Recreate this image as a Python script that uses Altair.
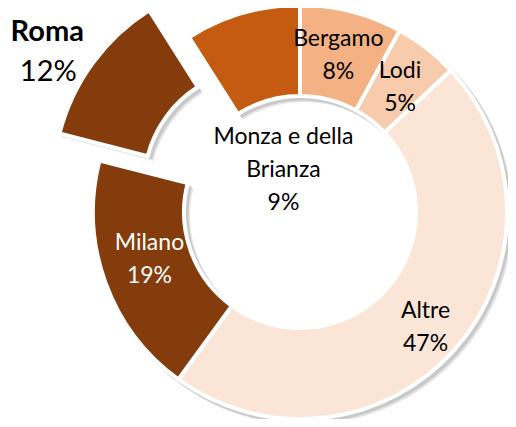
import math
import altair as alt
import pandas as pd

# ---- data ----
cities = ["Bergamo", "Lodi", "Altre", "Milano", "Roma", "Monza e della Brianza"]
shares = [8, 5, 47, 19, 12, 9]
pct_labels = ["8%", "5%", "47%", "19%", "12%", "9%"]
name_lines = ["Bergamo", "Lodi", "Altre", "Milano", "Roma", "Monza e della\nBrianza"]
colors = ["#F4B183", "#F8CBAD", "#FBE5D6", "#843C0C", "#843C0C", "#C55A11"]

df = pd.DataFrame({
    "city": cities,
    "share": shares,
    "order": list(range(len(cities))),
    "color": colors,
    "name": name_lines,
    "pct": pct_labels,
})
df["label"] = df["name"] + "\n" + df["pct"]

# ---- layout ----
W, H = 500, 411
CX_OFF, CY_OFF = 42, -1.5        # shift of the donut centre from the view centre
OUTER, INNER = 207, 116
EXPLODE = (-40, -27)              # Roma slice pulled out
FONT = "Lato"
FS = 23
LH = 33

theta_scale = alt.Scale(domain=[0, 100], range=[0, 2 * math.pi])

base = (
    alt.Chart(df)
    .transform_window(cum="sum(share)", sort=[alt.SortField("order")], frame=[None, 0])
    .transform_calculate(start="datum.cum - datum.share", mid="datum.cum - datum.share / 2")
)

arc_enc = dict(
    theta=alt.Theta("start:Q", scale=theta_scale, stack=False),
    theta2="cum:Q",
)

not_roma = alt.datum.city != "Roma"
is_roma = alt.datum.city == "Roma"

layers = []
# soft drop shadow
for off, op in [(4, 0.10), (2.5, 0.12)]:
    layers.append(
        base.transform_filter(not_roma)
        .mark_arc(outerRadius=OUTER + 2, innerRadius=INNER - 2, color="#000000", opacity=op,
                  xOffset=CX_OFF + off, yOffset=CY_OFF + off)
        .encode(**arc_enc)
    )
    layers.append(
        base.transform_filter(is_roma)
        .mark_arc(outerRadius=OUTER + 2, innerRadius=INNER - 2, color="#000000", opacity=op,
                  xOffset=CX_OFF + EXPLODE[0] + off, yOffset=CY_OFF + EXPLODE[1] + off)
        .encode(**arc_enc)
    )

layers.append(
    base.transform_filter(not_roma)
    .mark_arc(outerRadius=OUTER, innerRadius=INNER, stroke="white", strokeWidth=4,
              xOffset=CX_OFF, yOffset=CY_OFF)
    .encode(color=alt.Color("color:N", scale=None), **arc_enc)
)
layers.append(
    base.transform_filter(is_roma)
    .mark_arc(outerRadius=OUTER, innerRadius=INNER, stroke="white", strokeWidth=4,
              xOffset=CX_OFF + EXPLODE[0], yOffset=CY_OFF + EXPLODE[1])
    .encode(color=alt.Color("color:N", scale=None), **arc_enc)
)

text_theta = alt.Theta("mid:Q", scale=theta_scale, stack=False)

# per-label placement: (radius, dx, dy of block centre, number of lines, colour)
label_layout = {
    "Bergamo": (162, -2, 0, 2, "#000000"),
    "Lodi": (160, 2, 2, 2, "#000000"),
    "Altre": (170, -2, 3, 2, "#000000"),
    "Milano": (160, 0, -7, 2, "#FFFFFF"),
    "Monza e della Brianza": (45, -4, 1, 3, "#000000"),
}
for city, (r, dx, dy, n, col) in label_layout.items():
    layers.append(
        base.transform_filter(alt.datum.city == city)
        .mark_text(radius=r, dx=dx, dy=dy - (n - 1) * LH / 2, xOffset=CX_OFF, yOffset=CY_OFF,
                   font=FONT, fontSize=FS, lineBreak="\n", lineHeight=LH, color=col,
                   align="center")
        .encode(theta=text_theta, text="label:N")
    )

# Roma label outside, name bold, percent regular
layers.append(
    base.transform_filter(is_roma)
    .mark_text(radius=300, dx=-10, dy=-4, xOffset=CX_OFF, yOffset=CY_OFF, font=FONT,
               fontSize=29, fontWeight="bold", color="#000000", align="center")
    .encode(theta=text_theta, text="name:N")
)
layers.append(
    base.transform_filter(is_roma)
    .mark_text(radius=300, dx=-9, dy=36, xOffset=CX_OFF, yOffset=CY_OFF, font=FONT,
               fontSize=29, color="#000000", align="center")
    .encode(theta=text_theta, text="pct:N")
)

chart = (
    alt.layer(*layers)
    .properties(width=W, height=H, padding=0, autosize=alt.AutoSizeParams(type="none"))
    .configure_view(stroke=None)
)

chart.save("out.html", embed_options={"renderer": "svg", "actions": False})
